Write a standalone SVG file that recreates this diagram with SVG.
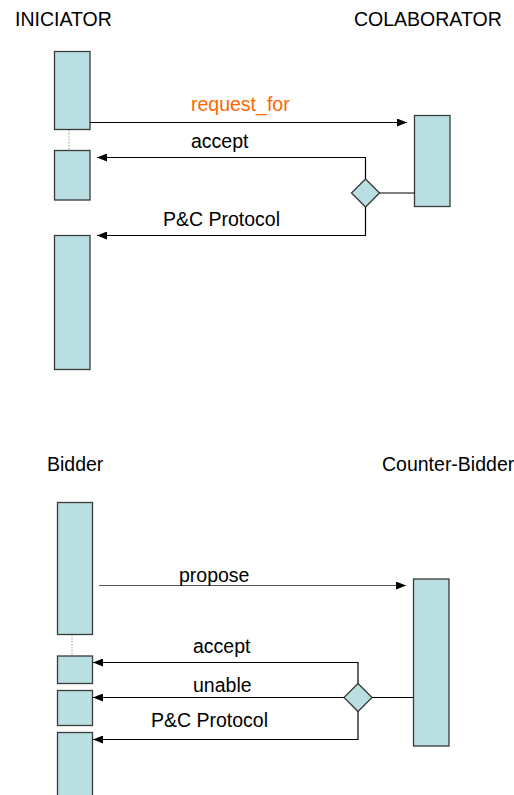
<svg xmlns="http://www.w3.org/2000/svg" width="514" height="795" viewBox="0 0 514 795">
<defs>
<marker id="ah" viewBox="0 0 10 8" refX="10" refY="4" markerWidth="10" markerHeight="8" markerUnits="userSpaceOnUse" orient="auto">
<path d="M0,0 L10,4 L0,8 z" fill="#000"/>
</marker>
<style>
text{font-family:"Liberation Sans",Arial,sans-serif;font-size:19.5px;fill:#000}
.or{fill:#FF6600}
.act{fill:#B9DFE2;stroke:#3a3a3a;stroke-width:1.3}
.ln{fill:none;stroke:#000;stroke-width:1.2}
.ar{fill:none;stroke:#000;stroke-width:1.2;marker-end:url(#ah)}
.dot{stroke:#999;stroke-width:1;stroke-dasharray:1.5,1.5}
</style>
</defs>
<rect width="514" height="795" fill="#fff"/>
<g id="labels">
<text x="15" y="26">INICIATOR</text>
<text x="354" y="26">COLABORATOR</text>
<text x="47" y="471">Bidder</text>
<text x="382" y="471">Counter-Bidder</text>
</g>
<g id="iniciator">
<rect class="act" x="54.5" y="51.5" width="35.5" height="78"/>
<line class="dot" x1="69" y1="130" x2="69" y2="150"/>
<rect class="act" x="54.5" y="150.5" width="35.5" height="49.5"/>
<rect class="act" x="54.5" y="235.5" width="35.5" height="134"/>
</g>
<g id="colaborator">
<rect class="act" x="414.5" y="115.5" width="35.5" height="91"/>
</g>
<g id="decision1">
<path class="act" d="M365.5,179 L379.5,193 L365.5,207 L351.5,193 z"/>
</g>
<g id="bidder">
<rect class="act" x="57.5" y="502.5" width="35" height="132"/>
<line class="dot" x1="72" y1="635" x2="72" y2="656"/>
<rect class="act" x="57.5" y="656" width="35" height="27.5"/>
<rect class="act" x="57.5" y="690.5" width="35" height="35"/>
<rect class="act" x="57.5" y="732.5" width="35" height="70"/>
</g>
<g id="counter-bidder">
<rect class="act" x="413.5" y="579" width="35.5" height="167"/>
</g>
<g id="decision2">
<path class="act" d="M358,683.5 L372,697.5 L358,711.5 L344,697.5 z"/>
</g>
<g id="connectors">
<line class="ar" x1="90" y1="122.5" x2="407" y2="122.5"/>
<polyline class="ar" points="365.5,179 365.5,157.5 97,157.5"/>
<polyline class="ar" points="365.5,207 365.5,235.5 97,235.5"/>
<line class="ln" x1="379.5" y1="193" x2="414.5" y2="193" stroke="#444"/>
<line class="ar" x1="99" y1="585.5" x2="406" y2="585.5" style="stroke:#555"/>
<polyline class="ar" points="358,683.5 358,662.5 93,662.5"/>
<line class="ar" x1="344" y1="697.5" x2="93" y2="697.5"/>
<polyline class="ar" points="358,711.5 358,739.5 93,739.5"/>
<line class="ln" x1="372" y1="697.5" x2="413.5" y2="697.5" stroke="#444"/>
</g>
<g id="connector-labels">
<text class="or" x="191" y="111">request_for</text>
<text x="191" y="148">accept</text>
<text x="163" y="226">P&amp;C Protocol</text>
<text x="179" y="582">propose</text>
<text x="193" y="653">accept</text>
<text x="193" y="692">unable</text>
<text x="151" y="727">P&amp;C Protocol</text>
</g>
</svg>
